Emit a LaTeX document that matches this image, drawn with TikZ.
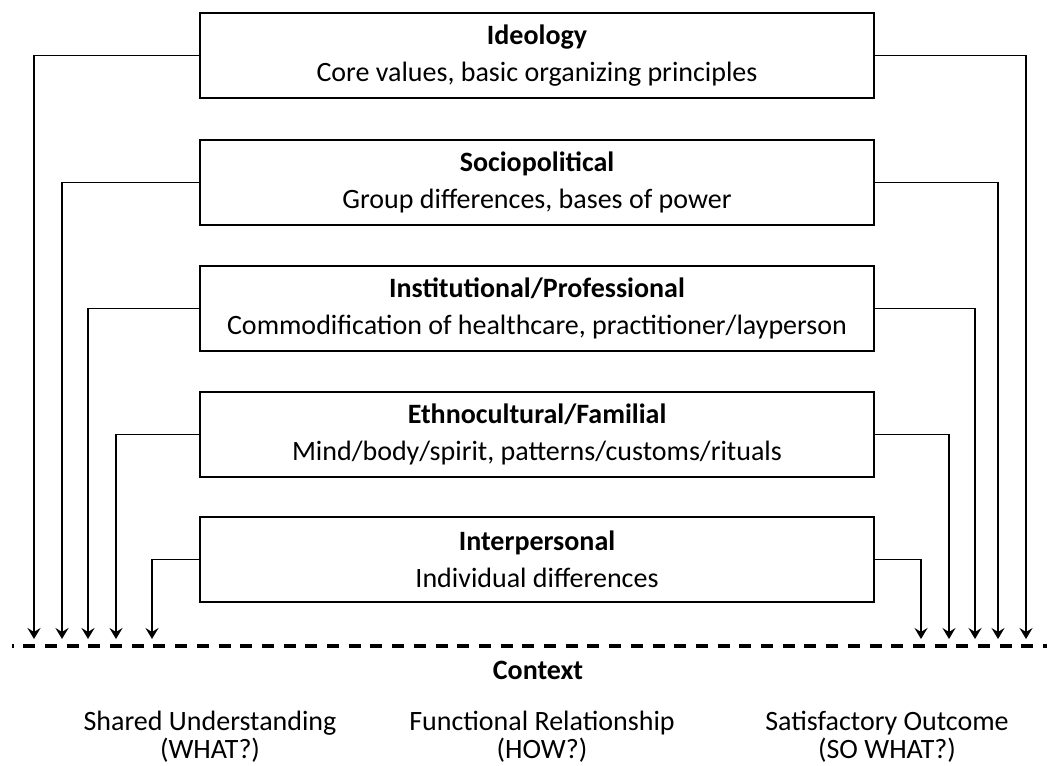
\documentclass[tikz,border=0pt]{standalone}
\usepackage{fontspec}
\setmainfont{Carlito}
\usetikzlibrary{arrows.meta}
\tikzstyle{level} = [rectangle, draw=black, line width=0.7pt, minimum width=337pt, minimum height=42.5pt, inner sep=0pt, align=center, font=\fontsize{14}{18.5}\selectfont]
\tikzstyle{arrow} = [line width=0.9pt,-{Stealth[length=5.5pt,width=6.5pt,inset=2pt]}]
\tikzstyle{caption} = [align=center, font=\fontsize{14}{14}\selectfont]
\begin{document}
\begin{tikzpicture}[x=0.5pt,y=-0.5pt]
		\useasboundingbox (0,0) rectangle (1047,765);
		% the five levels
		\node (ideo) [level] at (537,55.5) {\textbf{Ideology}\\Core values, basic organizing principles};
		\node (socio) [level] at (537,182.5) {\textbf{Sociopolitical}\\Group differences, bases of power};
		\node (inst) [level] at (537,308.5) {\textbf{Institutional/Professional}\\Commodification of healthcare, practitioner/layperson};
		\node (ethno) [level] at (537,434.5) {\textbf{Ethnocultural/Familial}\\Mind/body/spirit, patterns/customs/rituals};
		\node (inter) [level] at (537,559.5) {\textbf{Interpersonal}\\Individual differences};
		% arrow ends above the context line
		\coordinate (ideoL) at (34,639);
		\coordinate (socioL) at (62,639);
		\coordinate (instL) at (88,639);
		\coordinate (ethnoL) at (116,639);
		\coordinate (interL) at (152,639);
		\coordinate (ideoR) at (1026,639);
		\coordinate (socioR) at (998,639);
		\coordinate (instR) at (975,639);
		\coordinate (ethnoR) at (949,639);
		\coordinate (interR) at (921,639);
		\draw [arrow] (ideo.west) -| (ideoL);
		\draw [arrow] (socio.west) -| (socioL);
		\draw [arrow] (inst.west) -| (instL);
		\draw [arrow] (ethno.west) -| (ethnoL);
		\draw [arrow] (inter.west) -| (interL);
		\draw [arrow] (ideo.east) -| (ideoR);
		\draw [arrow] (socio.east) -| (socioR);
		\draw [arrow] (inst.east) -| (instR);
		\draw [arrow] (ethno.east) -| (ethnoR);
		\draw [arrow] (inter.east) -| (interR);
		% context line
		\coordinate (lineL) at (12,646);
		\coordinate (lineR) at (1047,646);
		\draw [line width=1.6pt, dash pattern=on 6pt off 4.85pt, dash phase=5.25pt] (lineL) -- (lineR);
		\node (context) [caption, font=\fontsize{14}{14}\selectfont\bfseries] at (538,670) {Context};
		\node (what) [caption] at (210,737) {Shared Understanding\\(WHAT?)};
		\node (how) [caption] at (542,737) {Functional Relationship\\(HOW?)};
		\node (sowhat) [caption] at (887,737) {Satisfactory Outcome\\(SO WHAT?)};
	\end{tikzpicture}
\end{document}
